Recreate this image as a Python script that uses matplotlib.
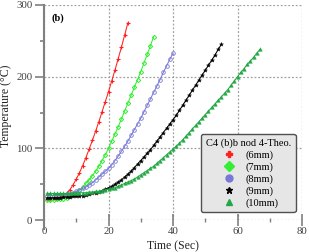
import matplotlib
matplotlib.use("Agg")
import matplotlib.pyplot as plt
from matplotlib.lines import Line2D

plt.rcParams['font.family'] = ['Liberation Serif', 'DejaVu Serif']

# Data (Time in sec, Temperature in deg C), sampled every second
t_6 = list(range(1, 27))
T_6 = [30, 30, 31, 31, 32, 34, 37, 42, 49, 57, 66, 76, 87, 99, 111, 124, 137, 151, 165, 179,
       194, 209, 225, 241, 258, 275]
t_7 = list(range(1, 35))
T_7 = [28, 28, 28, 29, 29, 30, 31, 33, 35, 38, 42, 46, 51, 56, 62, 68, 75, 83, 91, 100,
       110, 120, 130, 141, 152, 163, 174, 185, 196, 207, 219, 231, 243, 256]
t_8 = list(range(1, 41))
T_8 = [34, 34, 34, 34, 35, 35, 36, 37, 38, 40, 42, 44, 46, 49, 52, 56, 60, 64, 68, 72,
       77, 83, 89, 96, 103, 110, 118, 126, 134, 142, 151, 160, 169, 178, 187, 196, 206, 215, 224, 233]
t_9 = list(range(1, 56))
T_9 = [31, 31, 31, 31, 31, 32, 32, 32, 33, 33, 34, 34, 35, 36, 37, 38, 39, 41, 43, 45,
       47, 50, 53, 56, 60, 64, 68, 73, 78, 83, 88, 93, 98, 104, 110, 116, 122, 128, 134, 140,
       146, 153, 160, 167, 174, 181, 188, 195, 202, 209, 216, 223, 230, 238, 245]
t_10 = list(range(1, 68))
T_10 = [37, 37, 37, 37, 37, 37, 37, 37, 37, 38, 38, 38, 38, 39, 39, 40, 40, 41, 42, 43,
        44, 45, 47, 49, 51, 53, 55, 57, 60, 63, 66, 69, 72, 75, 79, 83, 87, 91, 95, 99,
        103, 107, 112, 117, 122, 127, 132, 137, 142, 147, 152, 157, 162, 167, 172, 177, 182, 188, 194, 200,
        206, 211, 217, 222, 227, 233, 238]

labels = ['(6mm)', '(7mm)', '(8mm)', '(9mm)', '(10mm)']
legend_title = 'C4 (b)b nod 4-Theo.'

series = [
    (t_6, T_6, '#ff2020', '+', dict(ms=3.5, mew=0.8), 'P'),
    (t_7, T_7, '#33ee33', 'D', dict(ms=2.2, mfc='none', mew=0.7), 'D'),
    (t_8, T_8, '#7878d8', 'o', dict(ms=2.6, mfc='none', mew=0.6), 'o'),
    (t_9, T_9, '#000000', '*', dict(ms=3.0, mew=0.3), '*'),
    (t_10, T_10, '#22a845', '^', dict(ms=2.6, mew=0.3), '^'),
]

fig = plt.figure(figsize=(3.09, 2.52), dpi=100)
ax = fig.add_axes([44/309, 1-220/252, (302-44)/309, (220-5)/252])

for (t, T, c, m, kw, lm) in series:
    ax.plot(t, T, color=c, lw=0.75, marker=m, **kw)

ax.set_xlim(0, 80)
ax.set_ylim(0, 300)
ax.set_xticks([0, 20, 40, 60, 80])
ax.set_yticks([0, 100, 200, 300])
ax.set_xticks([10, 30, 50, 70], minor=True)
ax.set_yticks([50, 150, 250], minor=True)

for s in ['top', 'right', 'bottom']:
    ax.spines[s].set_visible(False)
ax.spines['left'].set_color('#808080')
ax.spines['left'].set_linewidth(1.5)
ax.spines['left'].set_bounds(-12, 300)

ax.grid(True, which='major', color='#a0a0a0', linestyle=(0, (1.5, 1.5)), lw=0.9)
ax.set_axisbelow(True)

ax.tick_params(axis='y', which='major', direction='out', length=6.5, width=1.2, color='#808080',
               labelsize=7.8, labelcolor='#404040', pad=2)
ax.tick_params(axis='y', which='minor', direction='out', length=3, width=1.2, color='#808080')
ax.tick_params(axis='x', which='major', direction='inout', length=8, width=1.2, color='#808080',
               labelsize=7.8, labelcolor='#404040', pad=1)
ax.tick_params(axis='x', which='minor', direction='inout', length=3, width=1.0, color='#808080')

ax.set_xlabel('Time (Sec)', fontsize=8.5, color='#202020')
ax.set_ylabel('Temperature (°C)', fontsize=8.5, color='#202020')
ax.xaxis.set_label_coords(0.5, -0.095)
ax.yaxis.set_label_coords(-0.125, 0.53)

ax.text(0.03, 0.96, '(b)', transform=ax.transAxes, fontsize=7.5, fontweight='bold', va='top', ha='left')

handles = []
for (t, T, c, m, kw, lm), lab in zip(series, labels):
    handles.append(Line2D([], [], color=c, marker=lm, linestyle='none', ms=5))
leg = ax.legend(handles, labels, title=legend_title, loc='lower right',
                bbox_to_anchor=(0.975, 0.035), fontsize=7.5, title_fontsize=7.5,
                fancybox=True, framealpha=1, facecolor='#e6e6e6', edgecolor='#505050',
                handletextpad=0.5, labelspacing=0.22, borderpad=0.45, handlelength=2.2,
                borderaxespad=0)
leg.get_frame().set_linewidth(1.0)

fig.savefig('out.png', dpi=100)
